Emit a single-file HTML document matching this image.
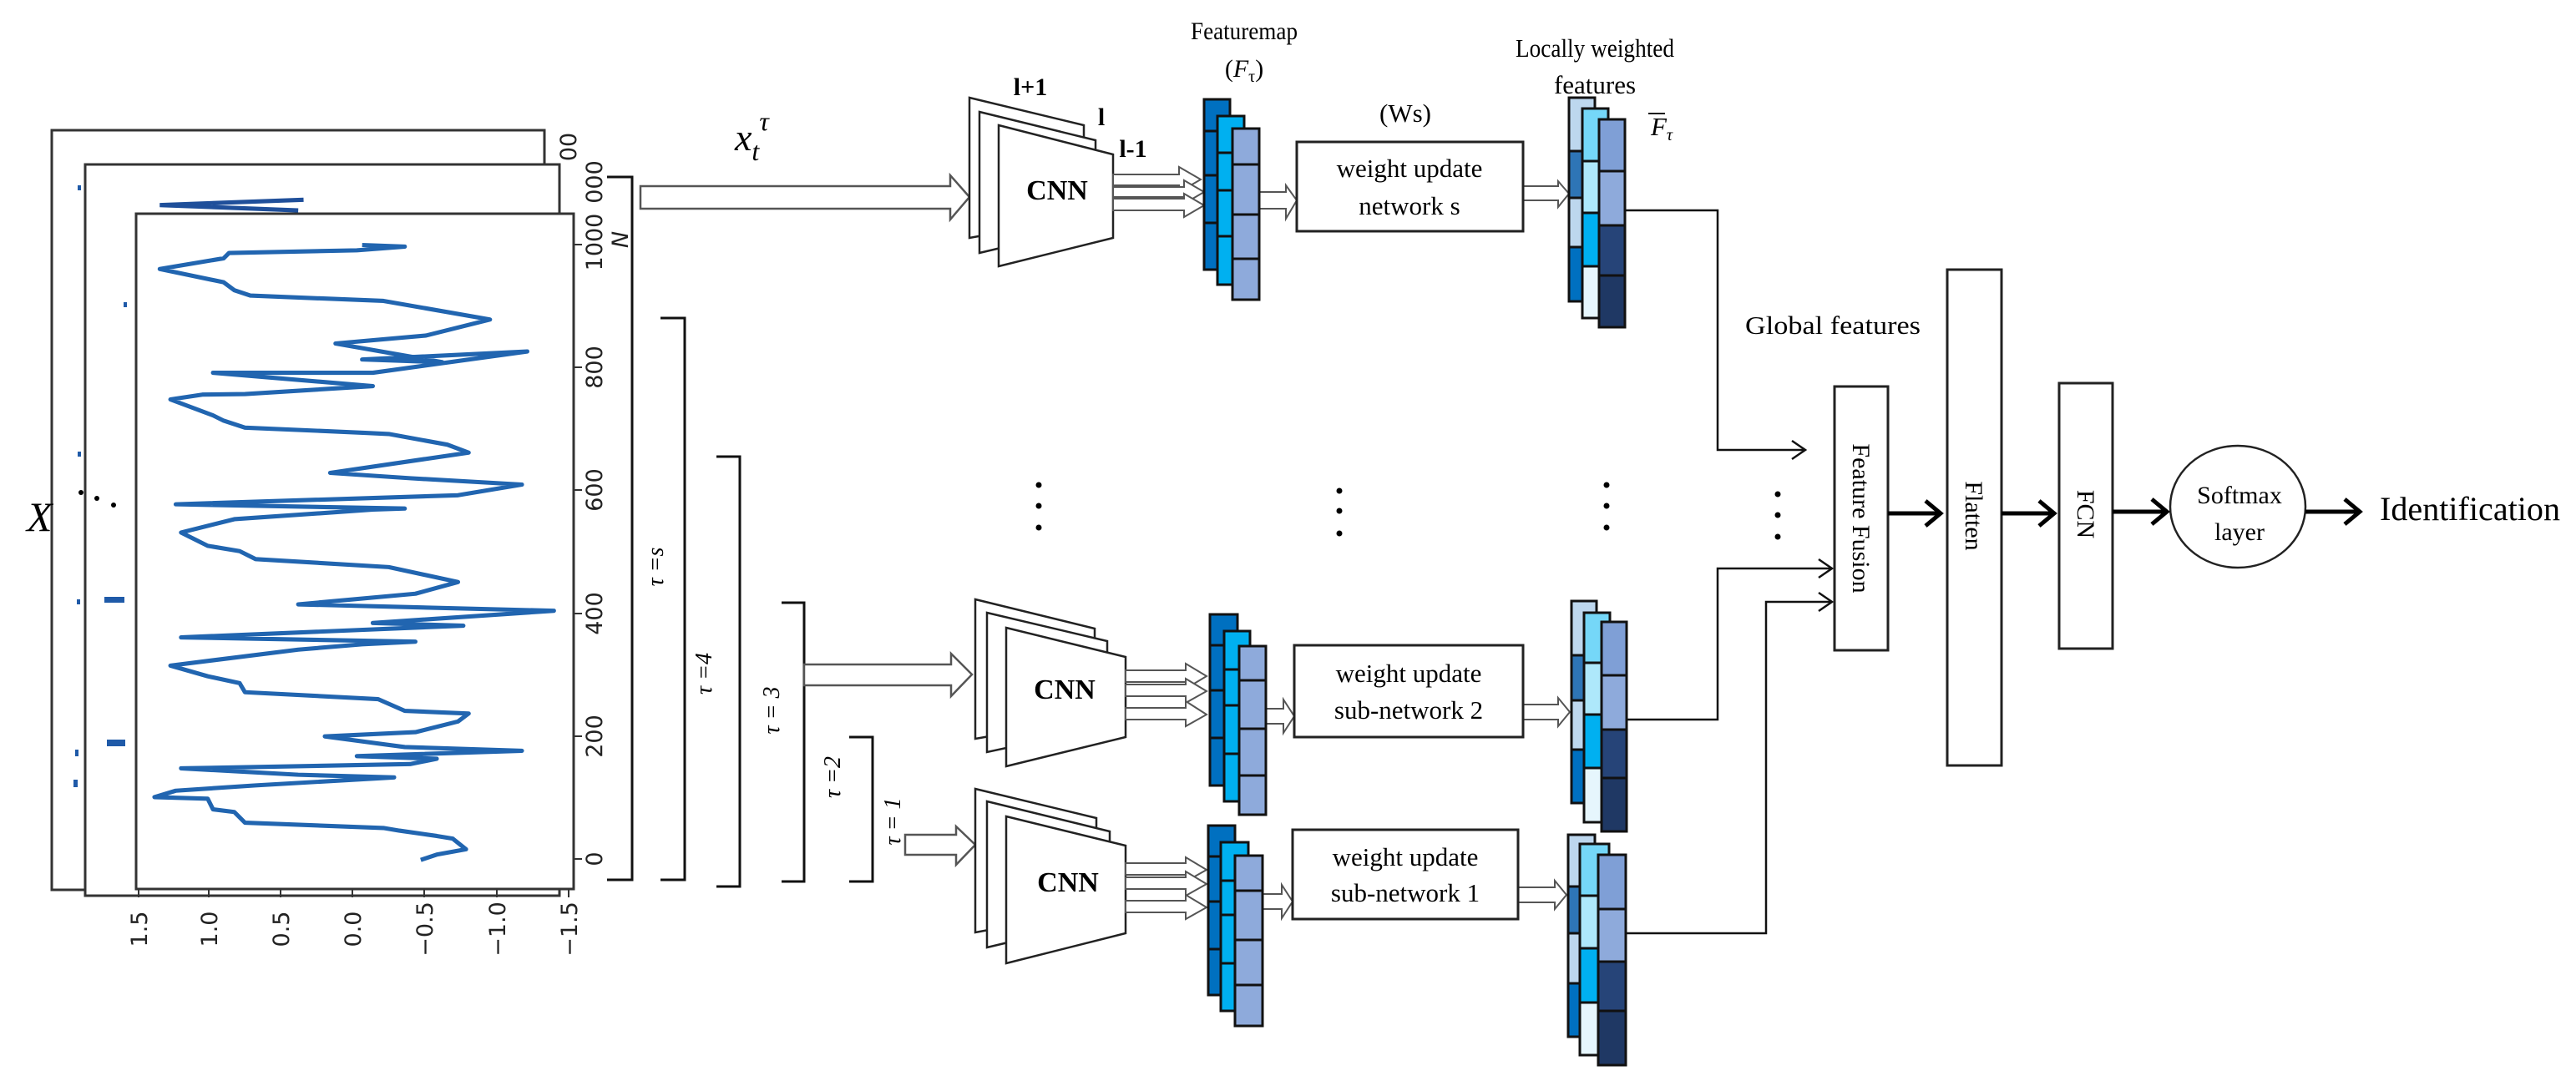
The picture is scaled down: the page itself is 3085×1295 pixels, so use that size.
<!DOCTYPE html>
<html><head><meta charset="utf-8"><style>html,body{margin:0;padding:0;background:#fff}svg{display:block}</style></head><body>
<svg width="3085" height="1295" viewBox="0 0 3085 1295" xmlns="http://www.w3.org/2000/svg" font-family="'Liberation Serif', serif">
<rect width="3085" height="1295" fill="#fff"/>
<g fill="#fff" stroke="#333" stroke-width="3">
<rect x="62" y="156" width="590" height="910"/>
<rect x="102" y="197" width="568" height="876"/>
<rect x="163" y="256" width="524" height="809"/>
</g>
<g fill="#1f5aa8">
<rect x="93" y="222" width="4" height="6"/><rect x="148" y="362" width="4" height="6"/>
<rect x="93" y="541" width="4" height="6"/><rect x="92" y="718" width="4" height="6"/>
<rect x="125" y="715" width="24" height="7"/><rect x="90" y="898" width="4" height="8"/>
<rect x="128" y="886" width="22" height="8"/><rect x="88" y="934" width="5" height="9"/>
</g>
<g fill="#000"><circle cx="97" cy="590" r="3"/><circle cx="116" cy="597" r="3"/><circle cx="136" cy="605" r="3"/></g>
<text x="32" y="636" font-size="50" font-style="italic">X</text>
<g transform="translate(0,150) scale(0.6378)">
<polyline fill="none" stroke="#2165b0" stroke-width="8" stroke-linejoin="round" points="790,1380 820,1370 875,1360 850,1340 820,1335 750,1325 720,1320 460,1310 440,1290 400,1285 390,1265 290,1262 330,1250 480,1240 740,1225 560,1220 340,1208 770,1200 820,1190 670,1185 980,1175 760,1168 610,1148 780,1140 860,1120 880,1105 760,1100 710,1078 460,1065 450,1048 390,1035 320,1015 440,1000 560,985 680,975 780,970 340,962 870,940 700,935 1040,912 760,905 560,900 780,880 860,858 730,830 480,815 450,800 390,790 340,765 440,740 700,722 760,720 330,712 860,695 980,675 770,663 620,653 880,615 840,600 730,580 690,578 460,568 420,555 400,545 320,515 380,506 460,505 700,490 400,465 700,465 990,425 680,440 830,445 630,410 800,395 920,365 720,330 470,320 440,310 420,295 300,270 420,250 430,240 670,235 760,228 680,225"/>
<polyline fill="none" stroke="#1f4f9a" stroke-width="8" points="570,140 300,150 560,160"/>
</g>
<g stroke="#333" stroke-width="2">
<line x1="687" y1="1029" x2="697" y2="1029"/><line x1="687" y1="882" x2="697" y2="882"/><line x1="687" y1="735" x2="697" y2="735"/><line x1="687" y1="587" x2="697" y2="587"/><line x1="687" y1="440" x2="697" y2="440"/><line x1="687" y1="293" x2="697" y2="293"/>
<line x1="166" y1="1065" x2="166" y2="1075"/><line x1="250" y1="1065" x2="250" y2="1075"/><line x1="336" y1="1065" x2="336" y2="1075"/><line x1="422" y1="1065" x2="422" y2="1075"/><line x1="508" y1="1065" x2="508" y2="1075"/><line x1="595" y1="1065" x2="595" y2="1075"/><line x1="681" y1="1065" x2="681" y2="1075"/>
</g>
<g font-family="'DejaVu Sans', sans-serif" font-size="27" fill="#222" text-anchor="middle">
<text transform="translate(721,1029) rotate(-90)">0</text>
<text transform="translate(721,882) rotate(-90)">200</text>
<text transform="translate(721,735) rotate(-90)">400</text>
<text transform="translate(721,587) rotate(-90)">600</text>
<text transform="translate(721,440) rotate(-90)">800</text>
<text transform="translate(721,290) rotate(-90)">1000</text>
<text transform="translate(721,218) rotate(-90)">000</text>
<text transform="translate(690,176) rotate(-90)">00</text>
<text transform="translate(752,287) rotate(-90)" font-style="italic">N</text>
<text transform="translate(176,1113) rotate(-90)">1.5</text>
<text transform="translate(260,1113) rotate(-90)">1.0</text>
<text transform="translate(346,1113) rotate(-90)">0.5</text>
<text transform="translate(432,1113) rotate(-90)">0.0</text>
<text transform="translate(518,1113) rotate(-90)">−0.5</text>
<text transform="translate(605,1113) rotate(-90)">−1.0</text>
<text transform="translate(691,1113) rotate(-90)">−1.5</text>
</g>
<g fill="none" stroke="#111" stroke-width="3">
<polyline points="727,212 757,212 757,1054 727,1054"/>
<polyline points="791,381 820,381 820,1054 791,1054"/>
<polyline points="858,547 886,547 886,1062 858,1062"/>
<polyline points="936,722 963,722 963,1056 936,1056"/>
<polyline points="1017,883 1045,883 1045,1056 1017,1056"/>
</g>
<g font-size="28" font-style="italic" text-anchor="middle">
<text transform="translate(794,679) rotate(-90)">τ =s</text>
<text transform="translate(852,807) rotate(-90)">τ =4</text>
<text transform="translate(933,851) rotate(-90)">τ = 3</text>
<text transform="translate(1006,931) rotate(-90)">τ =2</text>
<text transform="translate(1078,984) rotate(-90)">τ = 1</text>
</g>
<g fill="#fff" stroke="#555" stroke-width="2.5">
<polygon points="767,223 1138,223 1138,210 1161,236 1138,263 1138,250 767,250"/>
<polygon points="963,796 1139,796 1139,783 1164,808 1139,834 1139,821 963,821"/>
<polygon points="1084,1000 1145,1000 1145,990 1168,1012 1145,1036 1145,1024 1084,1024"/>
</g>
<text x="880" y="180" font-size="46" font-style="italic">x<tspan font-size="32" dy="12">t</tspan><tspan font-size="32" dy="-36">τ</tspan></text>
<g fill="#fff" stroke="#222" stroke-width="2.5">
<polygon points="1161,117 1298,150 1298,260 1161,285"/>
<polygon points="1173,134 1312,168 1312,270 1173,303"/>
<polygon points="1196,150 1333,185 1333,285 1196,319"/>
<polygon points="1168,718 1311,753 1311,860 1168,885"/>
<polygon points="1182,734 1326,768 1326,870 1182,901"/>
<polygon points="1205,752 1348,787 1348,883 1205,918"/>
<polygon points="1168,945 1313,980 1313,1090 1168,1117"/>
<polygon points="1182,960 1329,996 1329,1100 1182,1135"/>
<polygon points="1205,978 1348,1013 1348,1118 1205,1154"/>
</g>
<g font-weight="bold" font-size="34" text-anchor="middle">
<text x="1266" y="239">CNN</text><text x="1275" y="837">CNN</text><text x="1279" y="1068">CNN</text>
<text x="1234" y="114" font-size="30">l+1</text><text x="1319" y="150" font-size="30">l</text><text x="1357" y="188" font-size="30">l-1</text>
</g>
<g fill="#fff" stroke="#555" stroke-width="2">
<polygon points="1333,209 1412,209 1412,200 1438,215 1412,230 1412,222 1333,222"/>
<polygon points="1333,224 1418,224 1418,216 1442,230 1418,244 1418,236 1333,236"/>
<polygon points="1333,238 1418,238 1418,232 1442,246 1418,260 1418,252 1333,252"/>
<polygon points="1508,230 1540,230 1540,222 1553,240 1540,262 1540,250 1508,250"/>
<polygon points="1824,223 1866,223 1866,217 1879,232 1866,248 1866,240 1824,240"/>
<polygon points="1348,803 1420,803 1420,795 1445,810 1420,825 1420,817 1348,817"/>
<polygon points="1348,820 1420,820 1420,813 1445,828 1420,842 1420,834 1348,834"/>
<polygon points="1348,848 1420,848 1420,840 1445,856 1420,870 1420,862 1348,862"/>
<polygon points="1516,849 1537,849 1537,838 1550,858 1537,878 1537,867 1516,867"/>
<polygon points="1824,844 1866,844 1866,836 1880,853 1866,870 1866,862 1824,862"/>
<polygon points="1348,1034 1420,1034 1420,1027 1445,1042 1420,1056 1420,1048 1348,1048"/>
<polygon points="1348,1051 1420,1051 1420,1044 1445,1059 1420,1073 1420,1065 1348,1065"/>
<polygon points="1348,1079 1420,1079 1420,1072 1445,1087 1420,1101 1420,1093 1348,1093"/>
<polygon points="1512,1071 1535,1071 1535,1060 1548,1080 1535,1100 1535,1089 1512,1089"/>
<polygon points="1818,1063 1862,1063 1862,1055 1876,1072 1862,1089 1862,1081 1818,1081"/>
</g>
<g stroke="#111" stroke-width="3">
<rect x="1442" y="119" width="31" height="204" fill="#0070c0"/>
<rect x="1458" y="139" width="32" height="202" fill="#00b0f0"/>
<rect x="1476" y="154" width="32" height="205" fill="#8eaadb"/>
<line x1="1442" y1="157" x2="1458" y2="157"/><line x1="1442" y1="210" x2="1458" y2="210"/><line x1="1442" y1="267" x2="1458" y2="267"/>
<line x1="1458" y1="183" x2="1476" y2="183"/><line x1="1458" y1="228" x2="1476" y2="228"/><line x1="1458" y1="283" x2="1476" y2="283"/>
<line x1="1476" y1="197" x2="1508" y2="197"/><line x1="1476" y1="257" x2="1508" y2="257"/><line x1="1476" y1="310" x2="1508" y2="310"/>
<rect x="1449" y="736" width="33" height="205" fill="#0070c0"/>
<rect x="1466" y="756" width="31" height="204" fill="#00b0f0"/>
<rect x="1484" y="774" width="32" height="202" fill="#8eaadb"/>
<line x1="1449" y1="773" x2="1466" y2="773"/><line x1="1449" y1="827" x2="1466" y2="827"/><line x1="1449" y1="884" x2="1466" y2="884"/>
<line x1="1466" y1="802" x2="1484" y2="802"/><line x1="1466" y1="845" x2="1484" y2="845"/><line x1="1466" y1="903" x2="1484" y2="903"/>
<line x1="1484" y1="815" x2="1516" y2="815"/><line x1="1484" y1="873" x2="1516" y2="873"/><line x1="1484" y1="929" x2="1516" y2="929"/>
<rect x="1447" y="989" width="32" height="203" fill="#0070c0"/>
<rect x="1462" y="1009" width="33" height="202" fill="#00b0f0"/>
<rect x="1479" y="1025" width="33" height="204" fill="#8eaadb"/>
<line x1="1447" y1="1026" x2="1462" y2="1026"/><line x1="1447" y1="1080" x2="1462" y2="1080"/><line x1="1447" y1="1137" x2="1462" y2="1137"/>
<line x1="1462" y1="1055" x2="1479" y2="1055"/><line x1="1462" y1="1096" x2="1479" y2="1096"/><line x1="1462" y1="1154" x2="1479" y2="1154"/>
<line x1="1479" y1="1067" x2="1512" y2="1067"/><line x1="1479" y1="1126" x2="1512" y2="1126"/><line x1="1479" y1="1180" x2="1512" y2="1180"/>
</g>
<text x="1490" y="47" font-size="30" text-anchor="middle" textLength="128" lengthAdjust="spacingAndGlyphs">Featuremap</text>
<text x="1490" y="92" font-size="30" text-anchor="middle">(<tspan font-style="italic">F</tspan><tspan font-size="20" dy="6">τ</tspan><tspan dy="-6">)</tspan></text>
<g fill="#fff" stroke="#222" stroke-width="3">
<rect x="1553" y="170" width="271" height="107"/>
<rect x="1550" y="773" width="274" height="110"/>
<rect x="1548" y="994" width="270" height="107"/>
</g>
<g font-size="31" text-anchor="middle">
<text x="1683" y="146">(Ws)</text>
<text x="1688" y="212">weight  update</text><text x="1688" y="257">network  s</text>
<text x="1687" y="817">weight  update</text><text x="1687" y="861">sub-network  2</text>
<text x="1683" y="1037">weight  update</text><text x="1683" y="1080">sub-network  1</text>
<text x="1910" y="68" textLength="190" lengthAdjust="spacingAndGlyphs">Locally  weighted</text>
<text x="1910" y="112">features</text>
<text x="1990" y="162" font-style="italic">F<tspan font-size="20" dy="6">τ</tspan></text>
</g>
<line x1="1974" y1="136" x2="1994" y2="136" stroke="#111" stroke-width="2"/>
<g stroke="#111" stroke-width="3">
<rect x="1879" y="117" width="31" height="64" fill="#bdd7ee"/><rect x="1879" y="181" width="31" height="56" fill="#2e75b6"/><rect x="1879" y="237" width="31" height="59" fill="#bdd7ee"/><rect x="1879" y="296" width="31" height="65" fill="#0070c0"/>
<rect x="1895" y="130" width="31" height="63" fill="#75d7f8"/><rect x="1895" y="193" width="31" height="62" fill="#aee8fb"/><rect x="1895" y="255" width="31" height="64" fill="#00b0f0"/><rect x="1895" y="319" width="31" height="62" fill="#e6f6fd"/>
<rect x="1915" y="143" width="31" height="62" fill="#7f9fd6"/><rect x="1915" y="205" width="31" height="65" fill="#8eaadb"/><rect x="1915" y="270" width="31" height="60" fill="#264478"/><rect x="1915" y="330" width="31" height="62" fill="#1f3864"/>
<rect x="1882" y="720" width="30" height="65" fill="#bdd7ee"/><rect x="1882" y="785" width="30" height="54" fill="#2e75b6"/><rect x="1882" y="839" width="30" height="59" fill="#bdd7ee"/><rect x="1882" y="898" width="30" height="64" fill="#0070c0"/>
<rect x="1897" y="734" width="31" height="60" fill="#75d7f8"/><rect x="1897" y="794" width="31" height="62" fill="#aee8fb"/><rect x="1897" y="856" width="31" height="64" fill="#00b0f0"/><rect x="1897" y="920" width="31" height="65" fill="#e6f6fd"/>
<rect x="1918" y="745" width="30" height="64" fill="#7f9fd6"/><rect x="1918" y="809" width="30" height="65" fill="#8eaadb"/><rect x="1918" y="874" width="30" height="58" fill="#264478"/><rect x="1918" y="932" width="30" height="64" fill="#1f3864"/>
<rect x="1878" y="1000" width="32" height="62" fill="#bdd7ee"/><rect x="1878" y="1062" width="32" height="56" fill="#2e75b6"/><rect x="1878" y="1118" width="32" height="60" fill="#bdd7ee"/><rect x="1878" y="1178" width="32" height="64" fill="#0070c0"/>
<rect x="1892" y="1011" width="35" height="62" fill="#75d7f8"/><rect x="1892" y="1073" width="35" height="63" fill="#aee8fb"/><rect x="1892" y="1136" width="35" height="65" fill="#00b0f0"/><rect x="1892" y="1201" width="35" height="63" fill="#e6f6fd"/>
<rect x="1914" y="1024" width="33" height="65" fill="#7f9fd6"/><rect x="1914" y="1089" width="33" height="63" fill="#8eaadb"/><rect x="1914" y="1152" width="33" height="59" fill="#264478"/><rect x="1914" y="1211" width="33" height="65" fill="#1f3864"/>
</g>
<g fill="#000">
<circle cx="1244" cy="581" r="3.5"/><circle cx="1244" cy="606" r="3.5"/><circle cx="1244" cy="632" r="3.5"/>
<circle cx="1604" cy="588" r="3.5"/><circle cx="1604" cy="612" r="3.5"/><circle cx="1604" cy="639" r="3.5"/>
<circle cx="1924" cy="581" r="3.5"/><circle cx="1924" cy="606" r="3.5"/><circle cx="1924" cy="632" r="3.5"/>
<circle cx="2129" cy="592" r="3.5"/><circle cx="2129" cy="617" r="3.5"/><circle cx="2129" cy="643" r="3.5"/>
</g>
<g fill="none" stroke="#111" stroke-width="2.5">
<polyline points="1946,252 2057,252 2057,539 2162,539"/>
<polyline points="2146,528 2162,539 2146,550"/>
<polyline points="1948,862 2057,862 2057,681 2194,681"/>
<polyline points="2178,670 2194,681 2178,692"/>
<polyline points="1947,1118 2115,1118 2115,721 2194,721"/>
<polyline points="2178,710 2194,721 2178,732"/>
</g>
<text x="2090" y="400" font-size="31" textLength="210" lengthAdjust="spacingAndGlyphs">Global  features</text>
<g fill="#fff" stroke="#222" stroke-width="3">
<rect x="2197" y="463" width="64" height="316"/>
<rect x="2332" y="323" width="65" height="594"/>
<rect x="2466" y="459" width="64" height="318"/>
<ellipse cx="2680" cy="607" rx="81" ry="73" stroke-width="2.5"/>
</g>
<g font-size="30" text-anchor="middle">
<text transform="translate(2219,621) rotate(90)">Feature  Fusion</text>
<text transform="translate(2354,618) rotate(90)">Flatten</text>
<text transform="translate(2488,616) rotate(90)">FCN</text>
<text x="2682" y="603">Softmax</text>
<text x="2682" y="647">layer</text>
</g>
<text x="2850" y="623" font-size="40" textLength="216" lengthAdjust="spacingAndGlyphs">Identification</text>
<g fill="none" stroke="#000" stroke-width="5">
<line x1="2261" y1="615" x2="2324" y2="615"/><polyline points="2306,600 2324,615 2306,630"/>
<line x1="2397" y1="615" x2="2460" y2="615"/><polyline points="2442,600 2460,615 2442,630"/>
<line x1="2530" y1="613" x2="2595" y2="613"/><polyline points="2577,598 2595,613 2577,628"/>
<line x1="2761" y1="613" x2="2826" y2="613"/><polyline points="2808,598 2826,613 2808,628"/>
</g>
</svg>
</body></html>
